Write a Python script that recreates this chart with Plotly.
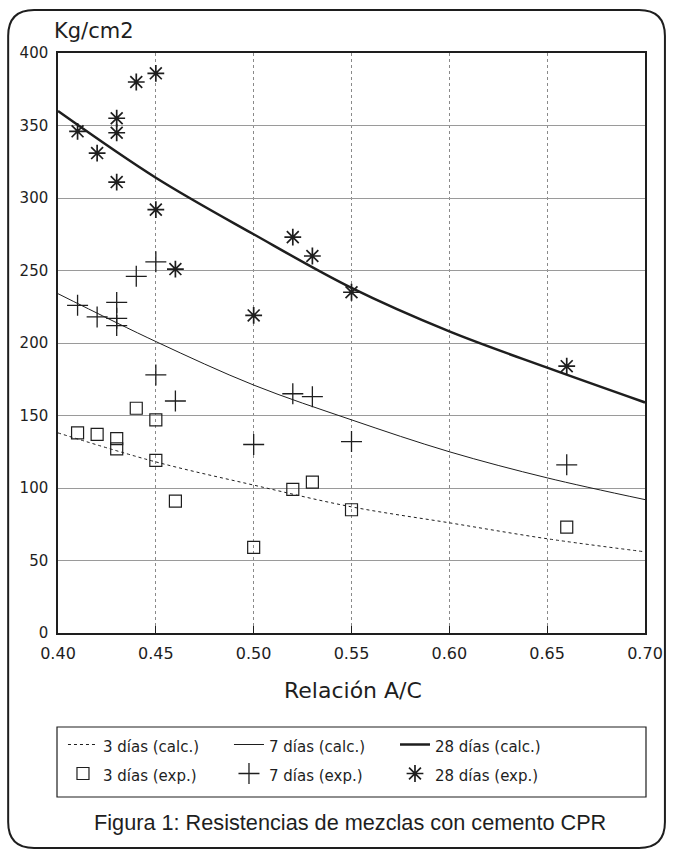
import plotly.graph_objects as go

# ---- data ----
calc_x = [0.40, 0.45, 0.50, 0.55, 0.60, 0.65, 0.70]
calc_3 = [138, 118, 102, 87, 76, 65, 56]
calc_7 = [234, 201, 171, 147, 125, 107, 92]
calc_28 = [360, 314, 275, 238, 208, 183, 159]

exp3_x = [0.41, 0.42, 0.43, 0.43, 0.44, 0.45, 0.45, 0.46, 0.50, 0.52, 0.53, 0.55, 0.66]
exp3_y = [138, 137, 134, 127, 155, 147, 119, 91, 59, 99, 104, 85, 73]

exp7_x = [0.41, 0.42, 0.43, 0.43, 0.43, 0.44, 0.45, 0.45, 0.46, 0.50, 0.52, 0.53, 0.55, 0.66]
exp7_y = [226, 218, 228, 217, 212, 246, 256, 178, 160, 130, 165, 163, 132, 116]

exp28_x = [0.41, 0.42, 0.43, 0.43, 0.43, 0.44, 0.45, 0.45, 0.46, 0.50, 0.52, 0.53, 0.55, 0.66]
exp28_y = [346, 331, 355, 345, 311, 380, 386, 292, 251, 219, 273, 260, 235, 184]

series_names = ["3 días (calc.)", "7 días (calc.)", "28 días (calc.)",
                "3 días (exp.)", "7 días (exp.)", "28 días (exp.)"]

x_ticks = [0.40, 0.45, 0.50, 0.55, 0.60, 0.65, 0.70]
x_tick_labels = ["0.40", "0.45", "0.50", "0.55", "0.60", "0.65", "0.70"]
y_ticks = [0, 50, 100, 150, 200, 250, 300, 350, 400]

INK = "#1e1e1e"
WIDE = "DejaVu Sans, Verdana, sans-serif"
HELV = "Liberation Sans, Arial, sans-serif"


def lg(name):
    return f'<span style="font-size:15px">{name}</span>'


fig = go.Figure()
fig.add_trace(go.Scatter(x=calc_x, y=calc_3, mode="lines", name=lg(series_names[0]),
                         line=dict(color=INK, width=1, dash="3px,3px", shape="spline")))
fig.add_trace(go.Scatter(x=calc_x, y=calc_7, mode="lines", name=lg(series_names[1]),
                         line=dict(color=INK, width=1, shape="spline")))
fig.add_trace(go.Scatter(x=calc_x, y=calc_28, mode="lines", name=lg(series_names[2]),
                         line=dict(color=INK, width=2.5, shape="spline")))
fig.add_trace(go.Scatter(x=exp3_x, y=exp3_y, mode="markers", name=lg(series_names[3]),
                         marker=dict(symbol="square-open", size=12, color=INK, line=dict(width=1.2))))
fig.add_trace(go.Scatter(x=exp7_x, y=exp7_y, mode="markers", name=lg(series_names[4]),
                         marker=dict(symbol="cross-thin-open", size=15, color=INK, line=dict(width=1.3, color=INK))))
fig.add_trace(go.Scatter(x=exp28_x, y=exp28_y, mode="markers", name=lg(series_names[5]),
                         marker=dict(symbol="asterisk-open", size=14, color=INK, line=dict(width=1.7, color=INK))))

L, R, T, B = 58, 28, 53, 222
W, H = 675, 855
pw, ph = W - L - R, H - T - B


def px(x):
    return (x - L) / pw


def py(y):
    return (H - B - y) / ph


# rounded outer frame
x0, x1, y0, y1, r = 8, 667, 10, 848, 26
path = (f"M {px(x0)},{py(y0 + r)} Q {px(x0)},{py(y0)} {px(x0 + r)},{py(y0)} "
        f"L {px(x1 - r)},{py(y0)} Q {px(x1)},{py(y0)} {px(x1)},{py(y0 + r)} "
        f"L {px(x1)},{py(y1 - r)} Q {px(x1)},{py(y1)} {px(x1 - r)},{py(y1)} "
        f"L {px(x0 + r)},{py(y1)} Q {px(x0)},{py(y1)} {px(x0)},{py(y1 - r)} Z")
fig.add_shape(type="path", path=path, xref="paper", yref="paper",
              line=dict(color=INK, width=2))
# legend box
fig.add_shape(type="rect", xref="paper", yref="paper",
              x0=px(57), x1=px(648), y0=py(727), y1=py(797),
              line=dict(color=INK, width=1.2))

fig.add_annotation(text="Kg/cm2", xref="paper", yref="paper", x=px(52), y=py(31),
                   xanchor="left", yanchor="middle", showarrow=False,
                   font=dict(family=WIDE, size=21, color=INK))
fig.add_annotation(text="Relación A/C", xref="paper", yref="paper", x=px(354), y=py(690),
                   xanchor="center", yanchor="middle", showarrow=False,
                   font=dict(family=WIDE, size=22, color=INK))
fig.add_annotation(text="Figura 1: Resistencias de mezclas con cemento CPR", xref="paper", yref="paper",
                   x=px(351), y=py(823), xanchor="center", yanchor="middle", showarrow=False,
                   font=dict(family=HELV, size=21.7, color=INK))

fig.update_layout(
    width=W, height=H,
    margin=dict(l=L, r=R, t=T, b=B),
    paper_bgcolor="white", plot_bgcolor="white",
    font=dict(family=WIDE, color=INK),
    showlegend=True,
    legend=dict(orientation="h", x=px(63), y=py(725), xanchor="left", yanchor="top",
                entrywidth=121, font=dict(family=WIDE, size=20, color=INK),
                bgcolor="rgba(0,0,0,0)", borderwidth=0, tracegroupgap=0),
    xaxis=dict(range=[0.40, 0.70], tickvals=x_ticks, ticktext=x_tick_labels,
               showline=True, linecolor=INK, linewidth=1.5, mirror=True,
               ticks="inside", ticklen=7, tickcolor=INK, ticklabelstandoff=5,
               showgrid=True, gridcolor="#8a8a8a", gridwidth=1, griddash="dot",
               zeroline=False, tickfont=dict(family=WIDE, size=16, color=INK)),
    yaxis=dict(range=[0, 400], tickvals=y_ticks,
               showline=True, linecolor=INK, linewidth=1.5, mirror=True,
               ticks="", showgrid=True, gridcolor="#9a9a9a", gridwidth=1,
               ticklabelstandoff=5,
               zeroline=False, tickfont=dict(family=WIDE, size=15, color=INK)),
)

fig.write_html("out.html", config={"displayModeBar": False},
               post_script="document.body.style.margin='0';document.body.style.overflow='hidden';")
